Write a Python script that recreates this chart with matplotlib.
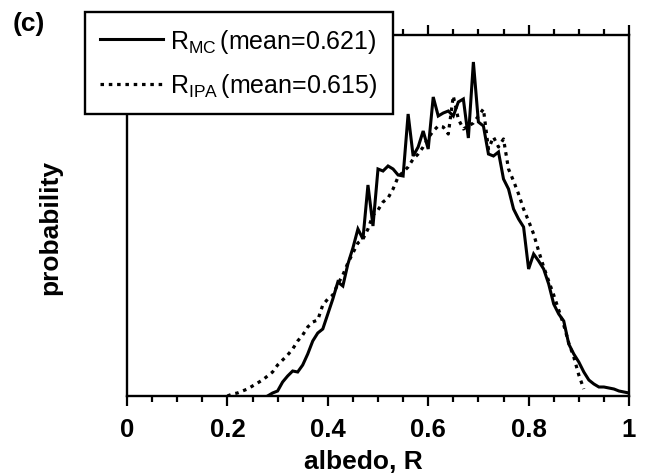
import numpy as np
import matplotlib
matplotlib.use("Agg")
import matplotlib.pyplot as plt
from matplotlib.ticker import MultipleLocator, FuncFormatter

plt.rcParams['font.family'] = ['Liberation Sans', 'DejaVu Sans']
plt.rcParams['mathtext.fontset'] = 'custom'
plt.rcParams['mathtext.rm'] = 'Liberation Sans'
plt.rcParams['mathtext.it'] = 'Liberation Sans:italic'
plt.rcParams['mathtext.bf'] = 'Liberation Sans:bold'

# ---- data (histogram counts, arbitrary units) ----
r_mc = np.round(np.arange(0.28, 1.0001, 0.01), 2)
p_mc = [0, 3, 5, 14, 20, 25, 24, 31, 42, 55,
        63, 67, 82, 97, 114, 110, 132, 148, 167, 157,
        211, 170, 227, 225, 230, 227, 221, 220, 282, 240,
        249, 265, 247, 299, 280, 283, 285, 280, 294, 297,
        258, 334, 274, 270, 242, 240, 244, 217, 207, 187,
        177, 169, 127, 142, 135, 127, 112, 92, 82, 75,
        52, 42, 34, 24, 16, 12, 9, 9, 8, 7,
        5, 4, 3]

r_ipa = np.round(np.arange(0.20, 0.9101, 0.01), 2)
p_ipa = [0, 2, 3, 5, 7, 10, 13, 16, 20, 24,
         31, 36, 41, 47, 55, 61, 69, 74, 76, 91,
         97, 101, 112, 121, 133, 143, 153, 157, 167, 181,
         186, 194, 198, 207, 219, 224, 229, 237, 242, 249,
         258, 265, 270, 269, 262, 300, 277, 267, 270, 273,
         280, 287, 247, 259, 249, 257, 227, 215, 202, 187,
         175, 162, 145, 129, 115, 101, 86, 71, 53, 39,
         21, 7]

label_mc = r'R$_{\mathrm{MC}}\,$(mean=0.621)'
label_ipa = r'R$_{\mathrm{IPA}}\,$(mean=0.615)'

fig = plt.figure(figsize=(6.47, 4.77), dpi=100)
ax = fig.add_axes([127/647, 1-397/477, (629-127)/647, (397-36)/477])

ax.plot(r_mc, p_mc, color='black', lw=2.2, solid_joinstyle='miter', label=label_mc)
ax.plot(r_ipa, p_ipa, color='black', lw=2.3, linestyle=(0, (1.1, 1.5)), label=label_ipa)

ax.set_xlim(0, 1)
ax.set_ylim(0, 361)
ax.set_yticks([])
ax.xaxis.set_major_locator(MultipleLocator(0.2))
ax.xaxis.set_minor_locator(MultipleLocator(0.05))
ax.xaxis.set_major_formatter(FuncFormatter(lambda v, p: '%g' % round(v, 2)))
ax.tick_params(axis='x', which='both', top=True, bottom=True, direction='out', width=1.6)
ax.tick_params(axis='x', which='major', length=7, labelsize=18.5, pad=8)
ax.tick_params(axis='x', which='minor', length=4.5)
for lbl in ax.get_xticklabels():
    lbl.set_fontweight('bold')
for s in ax.spines.values():
    s.set_linewidth(1.7)

ax.set_xlabel('albedo, R', fontsize=19, fontweight='bold')
ax.xaxis.set_label_coords(0.47, -0.147)
ax.set_ylabel('probability', fontsize=19, fontweight='bold')
ax.yaxis.set_label_coords(-0.13, 0.47)

leg = ax.legend(loc='upper left', bbox_to_anchor=(85/647, 1-13/477),
                bbox_transform=fig.transFigure, borderaxespad=0,
                fontsize=18, handlelength=2.5, handletextpad=0.3,
                labelspacing=0.65, borderpad=0.6, fancybox=False,
                framealpha=1, edgecolor='black')
leg.get_frame().set_linewidth(1.7)

fig.text(13/647, 1-12/477, '(c)', fontsize=19, fontweight='bold', ha='left', va='top')

fig.savefig('out.png', dpi=100)
